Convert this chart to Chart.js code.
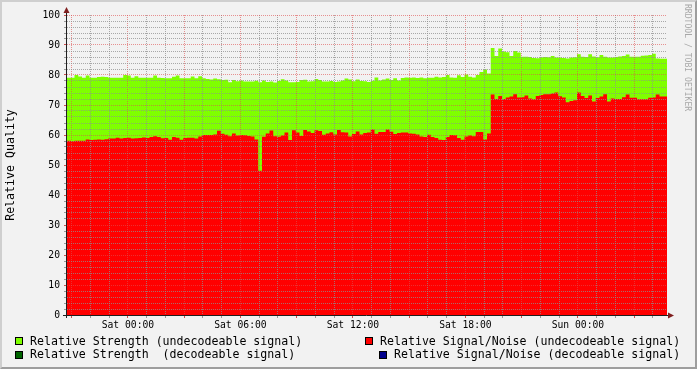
<!DOCTYPE html>
<html>
<head>
<meta charset="utf-8">
<script src="https://cdn.jsdelivr.net/npm/chart.js@4/dist/chart.umd.min.js"></script>
<style>
html,body{margin:0;padding:0;background:#f2f2f2;}
#wrap{position:relative;width:697px;height:369px;overflow:hidden;background:#f2f2f2;}
#frame{position:absolute;left:0;top:0;width:697px;height:369px;box-sizing:border-box;border-top:2px solid #cfcfcf;border-left:2px solid #cfcfcf;border-right:2px solid #9e9e9e;border-bottom:2px solid #9e9e9e;pointer-events:none;}
canvas{position:absolute;left:0;top:0;}
.lg{position:absolute;font-family:'DejaVu Sans Mono',monospace;font-size:11.6px;line-height:14px;white-space:pre;color:#000;}
.sw{position:absolute;width:6px;height:6px;border:1px solid #000;}
#wm{position:absolute;left:683px;top:4px;writing-mode:vertical-rl;font-family:'DejaVu Sans Mono',monospace;font-size:8.1px;line-height:10px;color:#a8a8a8;white-space:pre;}
</style>
</head>
<body>
<div id="wrap">
<canvas id="c" width="697" height="369"></canvas>
<div id="wm">RRDTOOL / TOBI OETIKER</div>
<div id="legend"></div>
<div id="frame"></div>
</div>
<script>
// ---- data (hours relative to Sat 00:00) ----
const startHour = -3.25;      // first sample (Fri 20:45)
const stepHours = 0.2;        // sample spacing (12 min)

const strength = [
  79.1, 79.1, 79.1, 80.0, 79.5, 79.1, 79.8, 79.1, 79.1, 79.3,
  79.4, 79.3, 79.1, 79.1, 79.1, 79.1, 80.0, 79.8, 79.1, 79.6,
  79.1, 79.1, 79.1, 79.1, 79.8, 79.1, 79.0, 78.9, 78.9, 79.4,
  79.8, 78.9, 78.9, 78.9, 79.5, 78.9, 79.6, 78.9, 78.7, 78.5,
  78.8, 78.6, 78.3, 78.4, 77.6, 78.3, 77.9, 78.2, 77.8, 77.8,
  77.8, 78.1, 77.6, 78.2, 77.7, 77.8, 77.5, 78.0, 78.6, 78.2,
  77.6, 77.6, 77.7, 78.3, 78.4, 77.8, 77.9, 78.7, 78.3, 77.8,
  77.8, 78.0, 77.7, 77.8, 78.2, 78.8, 78.5, 77.9, 78.5, 78.0,
  77.9, 77.7, 78.1, 79.2, 78.2, 78.5, 78.8, 78.3, 78.9, 78.2,
  79.0, 79.2, 79.1, 79.2, 79.0, 79.2, 78.9, 79.1, 79.1, 79.4,
  79.2, 79.3, 80.0, 79.2, 79.1, 79.9, 79.3, 80.2, 79.4, 79.2,
  80.0, 81.0, 81.8, 80.5, 89.0, 86.3, 88.8, 87.8, 87.6, 86.3,
  88.0, 87.5, 86.1, 86.1, 86.0, 85.7, 85.6, 85.9, 86.0, 85.9,
  86.3, 85.8, 85.8, 85.7, 85.5, 85.8, 85.9, 86.9, 86.1, 86.0,
  86.9, 86.2, 85.9, 86.7, 86.1, 85.8, 85.8, 86.0, 86.2, 86.3,
  86.8, 86.1, 86.1, 86.1, 86.4, 86.5, 86.7, 87.1, 85.5, 85.4
];

const signalNoise = [
  58.1, 58.1, 57.9, 58.1, 58.1, 58.1, 58.5, 58.3, 58.4, 58.5,
  58.4, 58.6, 58.8, 58.8, 59.1, 58.8, 59.0, 59.1, 58.8, 58.9,
  59.0, 59.2, 59.0, 59.3, 59.6, 59.3, 58.9, 59.0, 58.4, 59.3,
  59.1, 58.4, 59.0, 59.1, 59.1, 58.8, 59.5, 60.0, 60.0, 60.0,
  60.2, 61.4, 60.4, 60.1, 59.6, 60.5, 59.8, 60.0, 59.9, 59.7,
  59.5, 58.5, 48.1, 59.4, 60.5, 61.5, 59.6, 59.4, 59.8, 60.8,
  58.3, 61.6, 60.8, 59.7, 61.7, 61.2, 60.7, 61.6, 61.3, 60.1,
  60.5, 60.9, 60.2, 61.7, 60.9, 60.8, 59.5, 60.3, 61.2, 60.2,
  60.7, 60.8, 61.8, 60.4, 61.0, 61.0, 61.8, 61.1, 60.3, 60.7,
  60.8, 60.8, 60.5, 60.4, 60.2, 59.5, 59.3, 60.1, 59.3, 59.0,
  58.4, 58.3, 59.3, 60.0, 59.9, 59.0, 58.4, 59.5, 59.8, 59.6,
  61.0, 61.0, 58.5, 60.5, 73.5, 72.0, 73.0, 72.0, 72.5, 72.8,
  73.6, 72.5, 72.6, 73.2, 72.2, 71.9, 73.0, 73.3, 73.6, 73.6,
  73.8, 74.2, 72.9, 72.5, 70.9, 71.3, 71.6, 74.2, 73.0, 72.3,
  73.2, 71.2, 72.3, 72.8, 73.6, 71.2, 72.2, 72.0, 72.0, 72.6,
  73.5, 72.4, 72.4, 71.9, 71.9, 71.9, 72.4, 72.5, 73.5, 72.8
];

// decodeable-signal series: no data in this period (legend only)
const strengthDecodeable = [];
const signalNoiseDecodeable = [];

const tickHours  = [0, 6, 12, 18, 24];
const tickLabels = ['Sat 00:00', 'Sat 06:00', 'Sat 12:00', 'Sat 18:00', 'Sun 00:00'];

const legendItems = [
  {text: 'Relative Strength (undecodeable signal)',     color: '#7fff00'},
  {text: 'Relative Signal/Noise (undecodeable signal)', color: '#ff0000'},
  {text: 'Relative Strength  (decodeable signal)',      color: '#006400'},
  {text: 'Relative Signal/Noise (decodeable signal)',   color: '#00008b'}
];

// ---- build ----
const xMin = startHour;
const xMax = startHour + strength.length * stepHours;
function toPoints(arr) {
  const p = arr.map((v, i) => ({x: startHour + i * stepHours, y: v}));
  if (arr.length) p.push({x: xMax, y: arr[arr.length - 1]});
  return p;
}

const MINOR = 'rgba(143,143,143,0.75)';
const MAJOR = 'rgba(222,79,79,0.6)';
const MINOR_T = 'rgba(143,143,143,0.9)';
const MAJOR_T = 'rgba(200,60,60,0.9)';
function tv(c){ return (c && c.tick) ? c.tick.value : 0.5; }
function xGrid(c, tick){ const v = tv(c); return (Math.round(v) % 3 === 0) ? (tick?MAJOR_T:MAJOR) : (tick?MINOR_T:MINOR); }
function yGrid(c, tick){ const v = tv(c); if (v === 0) return 'rgba(0,0,0,0)'; return (Math.round(v) % 10 === 0) ? (tick?MAJOR_T:MAJOR) : (tick?MINOR_T:MINOR); }

const axesPlugin = {
  id: 'rrdAxes',
  afterDraw(chart) {
    const {ctx, chartArea: {left, right, top, bottom}} = chart;
    ctx.save();
    ctx.strokeStyle = 'rgb(31,31,31)';
    ctx.lineWidth = 1;
    ctx.beginPath();
    ctx.moveTo(left - 0.5, bottom + 3);
    ctx.lineTo(left - 0.5, top - 4);
    ctx.moveTo(left - 4, bottom + 0.5);
    ctx.lineTo(right + 3, bottom + 0.5);
    ctx.stroke();
    ctx.fillStyle = 'rgb(128,31,31)';
    ctx.beginPath();
    ctx.moveTo(left - 0.5, top - 8);
    ctx.lineTo(left - 3.5, top - 2);
    ctx.lineTo(left + 2.5, top - 2);
    ctx.closePath();
    ctx.fill();
    ctx.beginPath();
    ctx.moveTo(right + 7, bottom + 0.5);
    ctx.lineTo(right + 1, bottom - 2.5);
    ctx.lineTo(right + 1, bottom + 3.5);
    ctx.closePath();
    ctx.fill();
    ctx.restore();
  }
};

const monoTick = {family: "'DejaVu Sans Mono', monospace", size: 9.7};

new Chart(document.getElementById('c'), {
  type: 'line',
  data: {
    datasets: [
      {label: legendItems[1].text, data: toPoints(signalNoise), backgroundColor: '#ff0000', borderColor: 'rgba(0,0,0,0)', borderWidth: 0, fill: 'origin', stepped: 'after', pointRadius: 0, order: 0},
      {label: legendItems[3].text, data: toPoints(signalNoiseDecodeable), backgroundColor: '#00008b', borderColor: 'rgba(0,0,0,0)', borderWidth: 0, fill: 'origin', stepped: 'after', pointRadius: 0, order: 1},
      {label: legendItems[0].text, data: toPoints(strength), backgroundColor: '#7fff00', borderColor: 'rgba(0,0,0,0)', borderWidth: 0, fill: 'origin', stepped: 'after', pointRadius: 0, order: 2},
      {label: legendItems[2].text, data: toPoints(strengthDecodeable), backgroundColor: '#006400', borderColor: 'rgba(0,0,0,0)', borderWidth: 0, fill: 'origin', stepped: 'after', pointRadius: 0, order: 3}
    ]
  },
  options: {
    responsive: false,
    animation: false,
    devicePixelRatio: 1,
    layout: {padding: {top: 15, right: 30, left: 0, bottom: 0}},
    plugins: {legend: {display: false}, tooltip: {enabled: false}},
    scales: {
      x: {
        type: 'linear', min: xMin, max: xMax,
        afterBuildTicks(s) {
          const t = [];
          for (let h = Math.ceil(xMin); h <= Math.floor(xMax); h++) t.push({value: h});
          s.ticks = t;
        },
        afterFit(s) { s.height = 54; },
        ticks: {
          autoSkip: false, maxRotation: 0, minRotation: 0,
          padding: 2, color: '#000', font: monoTick,
          callback: v => { const k = tickHours.findIndex(h => Math.abs(h - v) < 1e-6); return k >= 0 ? tickLabels[k] : ''; }
        },
        grid: {z: 1, color: c => xGrid(c, false), tickColor: c => xGrid(c, true), tickLength: 3, lineWidth: 1},
        border: {display: false, dash: [1, 1]}
      },
      y: {
        min: 0, max: 100,
        afterFit(s) { s.width = 67; },
        ticks: {
          stepSize: 2, autoSkip: false, padding: 4, color: '#000', font: monoTick,
          callback: v => (Math.round(v) % 10 === 0 ? String(v) : '')
        },
        grid: {z: 1, color: c => yGrid(c, false), tickColor: c => yGrid(c, true), tickLength: 3, lineWidth: 1},
        border: {display: false, dash: [1, 1]},
        title: {display: true, text: 'Relative Quality', color: '#000', font: {family: "'DejaVu Sans Mono', monospace", size: 11.6}, padding: {top: 4, bottom: 0}}
      }
    }
  },
  plugins: [axesPlugin]
});

// ---- legend (RRDtool style, two columns) ----
const legendPos = [
  {sx: 15,  sy: 337, tx: 30,  ty: 334},
  {sx: 365, sy: 337, tx: 380, ty: 334},
  {sx: 15,  sy: 351, tx: 30,  ty: 347},
  {sx: 379, sy: 351, tx: 394, ty: 347}
];
const lg = document.getElementById('legend');
legendItems.forEach((it, i) => {
  const p = legendPos[i];
  const sw = document.createElement('div');
  sw.className = 'sw';
  sw.style.left = p.sx + 'px'; sw.style.top = p.sy + 'px'; sw.style.background = it.color;
  const t = document.createElement('div');
  t.className = 'lg';
  t.style.left = p.tx + 'px'; t.style.top = p.ty + 'px';
  t.textContent = it.text;
  lg.appendChild(sw); lg.appendChild(t);
});
</script>
</body>
</html>
